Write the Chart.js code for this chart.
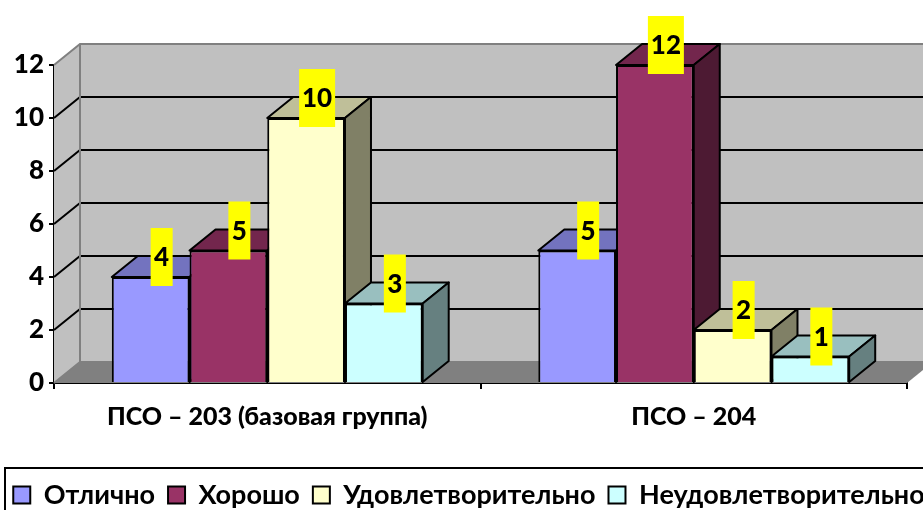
<!DOCTYPE html>
<html>
<head>
<meta charset="utf-8">
<script src="https://cdn.jsdelivr.net/npm/chart.js@4"></script>
<style>
  html, body { margin: 0; padding: 0; background: #fff; overflow: hidden; }
  canvas { display: block; }
</style>
</head>
<body>
<canvas id="grades" width="923" height="510"></canvas>
<script>
const categories = ["ПСО – 203 (базовая группа)", "ПСО – 204"];
const names = ["Отлично", "Хорошо", "Удовлетворительно", "Неудовлетворительно"];
const excellent = [4, 5];
const good = [5, 12];
const satisfactory = [10, 2];
const unsatisfactory = [3, 1];

const FONT = "Lato";
const DX = 26;
const DY = -21;

// front, top, side
const shades = [
  ["#9999FF", "#7373BF", "#4D4D80"],
  ["#993366", "#73264D", "#4D1A33"],
  ["#FFFFCC", "#BFBF99", "#808066"],
  ["#CCFFFF", "#99BFBF", "#668080"],
];

function poly(ctx, pts, fill, stroke, width) {
  ctx.beginPath();
  pts.forEach((p, i) => (i ? ctx.lineTo(p[0], p[1]) : ctx.moveTo(p[0], p[1])));
  ctx.closePath();
  ctx.fillStyle = fill;
  ctx.fill();
  if (stroke) {
    ctx.strokeStyle = stroke;
    ctx.lineWidth = width;
    ctx.stroke();
  }
}

const box3d = {
  id: "box3d",
  beforeDatasetsDraw(chart) {
    const { ctx, scales } = chart;
    const l = scales.x.left, r = scales.x.right;
    const t = scales.y.getPixelForValue(12), b = scales.y.getPixelForValue(0);
    ctx.save();
    // walls and floor
    poly(ctx, [[l + DX, t + DY], [r + DX, t + DY], [r + DX, b + DY], [l + DX, b + DY]], "#C0C0C0");
    poly(ctx, [[l, t], [l + DX, t + DY], [l + DX, b + DY], [l, b]], "#C0C0C0");
    poly(ctx, [[l, b], [l + DX, b + DY], [r + DX, b + DY], [r, b]], "#808080");
    scales.y.ticks.forEach((tick) => {
      const y = scales.y.getPixelForValue(tick.value);
      const edge = tick.value === 0 || tick.value === 12;
      ctx.beginPath();
      ctx.moveTo(l, y);
      ctx.lineTo(l + DX, y + DY);
      ctx.lineTo(r + DX, y + DY);
      ctx.strokeStyle = edge ? "#808080" : "#000";
      ctx.lineWidth = 2;
      ctx.stroke();
    });
    ctx.beginPath();
    ctx.moveTo(l + DX, t + DY);
    ctx.lineTo(l + DX, b + DY);
    ctx.strokeStyle = "#808080";
    ctx.lineWidth = 2;
    ctx.stroke();
    // bars left to right, so the next front covers the previous side
    ctx.lineJoin = "round";
    chart.data.datasets.forEach((ds, i) => {
      const meta = chart.getDatasetMeta(i);
      const c = shades[i];
      meta.data.forEach((bar) => {
        const x0 = bar.x - bar.width / 2, x1 = bar.x + bar.width / 2;
        const y0 = bar.y, y1 = bar.base;
        poly(ctx, [[x0, y0], [x0 + DX, y0 + DY], [x1 + DX, y0 + DY], [x1, y0]], c[1], "#000", 2);
        poly(ctx, [[x1, y0], [x1 + DX, y0 + DY], [x1 + DX, y1 + DY], [x1, y1]], c[2], "#000", 2);
      });
      meta.controller.draw();
    });
    ctx.restore();
  },
  // bars are already drawn above
  beforeDatasetDraw() {
    return false;
  },
  // yellow value tags and the legend frame
  afterDatasetsDraw(chart) {
    const { ctx } = chart;
    ctx.save();
    ctx.textAlign = "center";
    ctx.textBaseline = "middle";
    ctx.font = "900 26px " + FONT;
    chart.data.datasets.forEach((ds, i) => {
      chart.getDatasetMeta(i).data.forEach((bar, j) => {
        const v = ds.data[j];
        const w = v >= 10 ? 36 : 22;
        const cx = bar.x + 11, cy = bar.y - 20;
        ctx.fillStyle = "#FFFF00";
        ctx.fillRect(cx - w / 2, cy - 29, w, 58);
        ctx.fillStyle = "#000";
        ctx.fillText(String(v), cx, cy + 1);
      });
    });
    ctx.strokeStyle = "#000";
    ctx.lineWidth = 2;
    ctx.strokeRect(5, 468, 930, 60);
    ctx.restore();
  },
};

const series = [excellent, good, satisfactory, unsatisfactory];

new Chart("grades", {
  type: "bar",
  data: {
    labels: categories,
    datasets: series.map((values, i) => ({
      label: names[i],
      data: values,
      backgroundColor: shades[i][0],
      borderColor: "#000",
      borderWidth: 2,
      categoryPercentage: 0.729,
      barPercentage: 1,
    })),
  },
  options: {
    responsive: false,
    animation: false,
    // negative sides let the wide legend sit where the original has it
    layout: { padding: { top: 65, right: -37, left: -22, bottom: -8.5 } },
    scales: {
      x: {
        afterFit(s) { s.height = 85.5; },
        border: { color: "#000", width: 2 },
        grid: { drawOnChartArea: false, color: "#000", lineWidth: 2, tickLength: 6 },
        ticks: { color: "#000", padding: 13, maxRotation: 0, font: { family: FONT, size: 25, weight: "900" } },
      },
      y: {
        min: 0,
        max: 12,
        afterFit(s) { s.width = 76; },
        border: { color: "#000", width: 2 },
        grid: { drawOnChartArea: false, color: "#000", lineWidth: 2, tickLength: 5 },
        ticks: { stepSize: 2, color: "#000", padding: 5, font: { family: FONT, size: 26, weight: "900" } },
      },
      // empty axis, only keeps the plot's right edge in place
      spacer: {
        position: "right",
        afterFit(s) { s.width = 53; },
        grid: { display: false },
        border: { display: false },
        ticks: { display: false },
      },
    },
    plugins: {
      tooltip: { enabled: false },
      legend: {
        position: "bottom",
        labels: {
          boxWidth: 17,
          boxHeight: 17,
          padding: 13,
          color: "#000",
          font: { family: FONT, size: 27, weight: "bold" },
        },
      },
    },
  },
  plugins: [box3d],
});
</script>
</body>
</html>
